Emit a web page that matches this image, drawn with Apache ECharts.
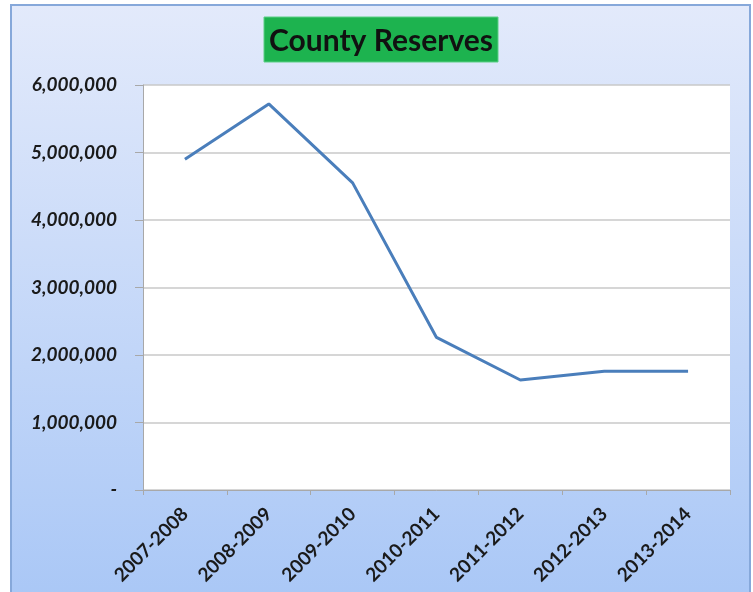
<!DOCTYPE html>
<html>
<head>
<meta charset="utf-8">
<script src="https://cdn.jsdelivr.net/npm/echarts@6/dist/echarts.min.js"></script>
<style>
    html, body { margin: 0; padding: 0; background: #fff; }
    #chart { width: 753px; height: 592px; }
</style>
</head>
<body>
<div id="chart"></div>
<script>
const years = ['2007-2008', '2008-2009', '2009-2010', '2010-2011', '2011-2012', '2012-2013', '2013-2014'];
const reserves = [4900000, 5720000, 4550000, 2260000, 1630000, 1760000, 1760000];
const yTicks = [0, 1000000, 2000000, 3000000, 4000000, 5000000, 6000000];

const labelFont = 'Lato, "Open Sans", sans-serif';

const chart = echarts.init(document.getElementById('chart'));

const option = {
    animation: false,
    graphic: [
        {
            type: 'rect',
            z: -10,
            shape: { x: 11, y: 5, width: 739, height: 600 },
            style: {
                fill: new echarts.graphic.LinearGradient(0, 0, 0, 1, [
                    { offset: 0, color: '#e3eafb' },
                    { offset: 1, color: '#a9c7f6' },
                ]),
                stroke: '#86a8da',
                lineWidth: 2,
            },
        },
        {
            type: 'rect',
            z: 10,
            shape: { x: 264, y: 17, width: 234, height: 45 },
            style: { fill: '#1db34f', stroke: '#5ccf86', lineWidth: 1 },
        },
        {
            type: 'text',
            z: 11,
            x: 381,
            y: 41,
            style: {
                text: 'County Reserves',
                align: 'center',
                verticalAlign: 'middle',
                fill: '#111',
                font: 'bold 30px ' + labelFont,
            },
        },
    ],
    grid: {
        left: 143,
        right: 23,
        top: 85,
        bottom: 102,
        show: true,
        backgroundColor: '#ffffff',
        borderWidth: 0,
    },
    xAxis: {
        type: 'category',
        data: years,
        boundaryGap: true,
        axisLine: { lineStyle: { color: '#a8a8a8', width: 1 } },
        axisTick: { show: true, length: 5, lineStyle: { color: '#a8a8a8' } },
        axisLabel: {
            rotate: 45,
            margin: 21,
            color: '#1a1a1a',
            fontWeight: 'bold',
            fontSize: 19,
            fontFamily: labelFont,
        },
    },
    yAxis: {
        type: 'value',
        min: yTicks[0],
        max: yTicks[yTicks.length - 1],
        interval: 1000000,
        axisLine: { show: true, lineStyle: { color: '#a8a8a8', width: 1 } },
        axisTick: { show: true, length: 8, lineStyle: { color: '#a8a8a8' } },
        splitLine: { lineStyle: { color: '#c8c8c8', width: 1.5 } },
        axisLabel: {
            margin: 26,
            color: '#1a1a1a',
            fontWeight: 'bold',
            fontStyle: 'italic',
            fontSize: 19,
            fontFamily: labelFont,
            formatter: v => (v === 0 ? '-' : v.toLocaleString('en-US')),
        },
    },
    series: [
        {
            name: 'County Reserves',
            type: 'line',
            data: reserves,
            showSymbol: false,
            lineStyle: { color: '#4a7ebb', width: 3 },
        },
    ],
};

chart.setOption(option);
</script>
</body>
</html>
